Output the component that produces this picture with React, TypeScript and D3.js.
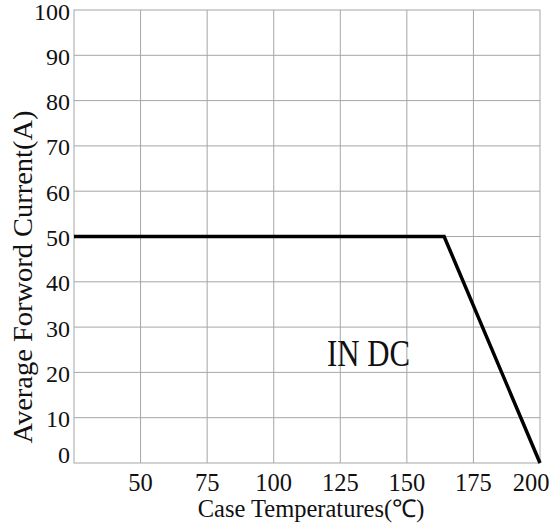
import React from "react";
import * as d3 from "d3";

const xTicks = [50, 75, 100, 125, 150, 175, 200];
const yTicks = [0, 10, 20, 30, 40, 50, 60, 70, 80, 90, 100];
const curveTemp = [25, 164, 200];
const curveCurrent = [50, 50, 0];
const xDomain = [25, 200];
const yDomain = [0, 100];
const xTitle = "Case Temperatures(℃)";
const yTitle = "Average Forword Current(A)";
const note = "IN DC";

const W = 555;
const H = 526;
const L = 74;
const R = 540;
const T = 10;
const B = 463;

export default function App() {
  const x = d3.scaleLinear().domain(xDomain).range([L, R]);
  const y = d3.scaleLinear().domain(yDomain).range([B, T]);
  const line = d3
    .line<number>()
    .x((_, i) => x(curveTemp[i]))
    .y((d) => y(d));
  const font = "'Liberation Serif', 'Times New Roman', serif";
  const grid = "#a6a6a6";
  return (
    <svg
      width={W}
      height={H}
      style={{ position: "absolute", left: 0, top: 0, background: "#fff", fontFamily: font }}
    >
      <rect x={0} y={0} width={W} height={H} fill="#fff" />
      {xTicks.slice(0, -1).map((t) => (
        <line key={"vx" + t} x1={x(t)} x2={x(t)} y1={T} y2={B} stroke={grid} strokeWidth={1} />
      ))}
      {yTicks.slice(1, -1).map((t) => (
        <line key={"hy" + t} x1={L} x2={R} y1={y(t)} y2={y(t)} stroke={grid} strokeWidth={1} />
      ))}
      <rect x={L} y={T} width={R - L} height={B - T} fill="none" stroke={grid} strokeWidth={1} />
      <path
        d={line(curveCurrent) || ""}
        fill="none"
        stroke="#000"
        strokeWidth={3.5}
        strokeLinejoin="miter"
      />
      {yTicks.map((t) => (
        <text
          key={"yl" + t}
          x={70}
          y={Math.min(y(t) + 9.5, B)}
          textAnchor="end"
          fontSize={24}
          fill="#111"
        >
          {t}
        </text>
      ))}
      {xTicks.map((t) => (
        <text
          key={"xl" + t}
          x={Math.min(x(t), W - 24)}
          y={491}
          textAnchor="middle"
          fontSize={24.5}
          fill="#111"
        >
          {t}
        </text>
      ))}
      <text x={311} y={517} textAnchor="middle" fontSize={24.5} fill="#111">
        {xTitle}
      </text>
      <text
        transform={`translate(32, ${277}) rotate(-90)`}
        textAnchor="middle"
        fontSize={27}
        fill="#111"
        textLength={333}
        lengthAdjust="spacingAndGlyphs"
      >
        {yTitle}
      </text>
      <text
        x={327}
        y={366}
        fontSize={38}
        fill="#111"
        textLength={83}
        lengthAdjust="spacingAndGlyphs"
      >
        {note}
      </text>
    </svg>
  );
}
